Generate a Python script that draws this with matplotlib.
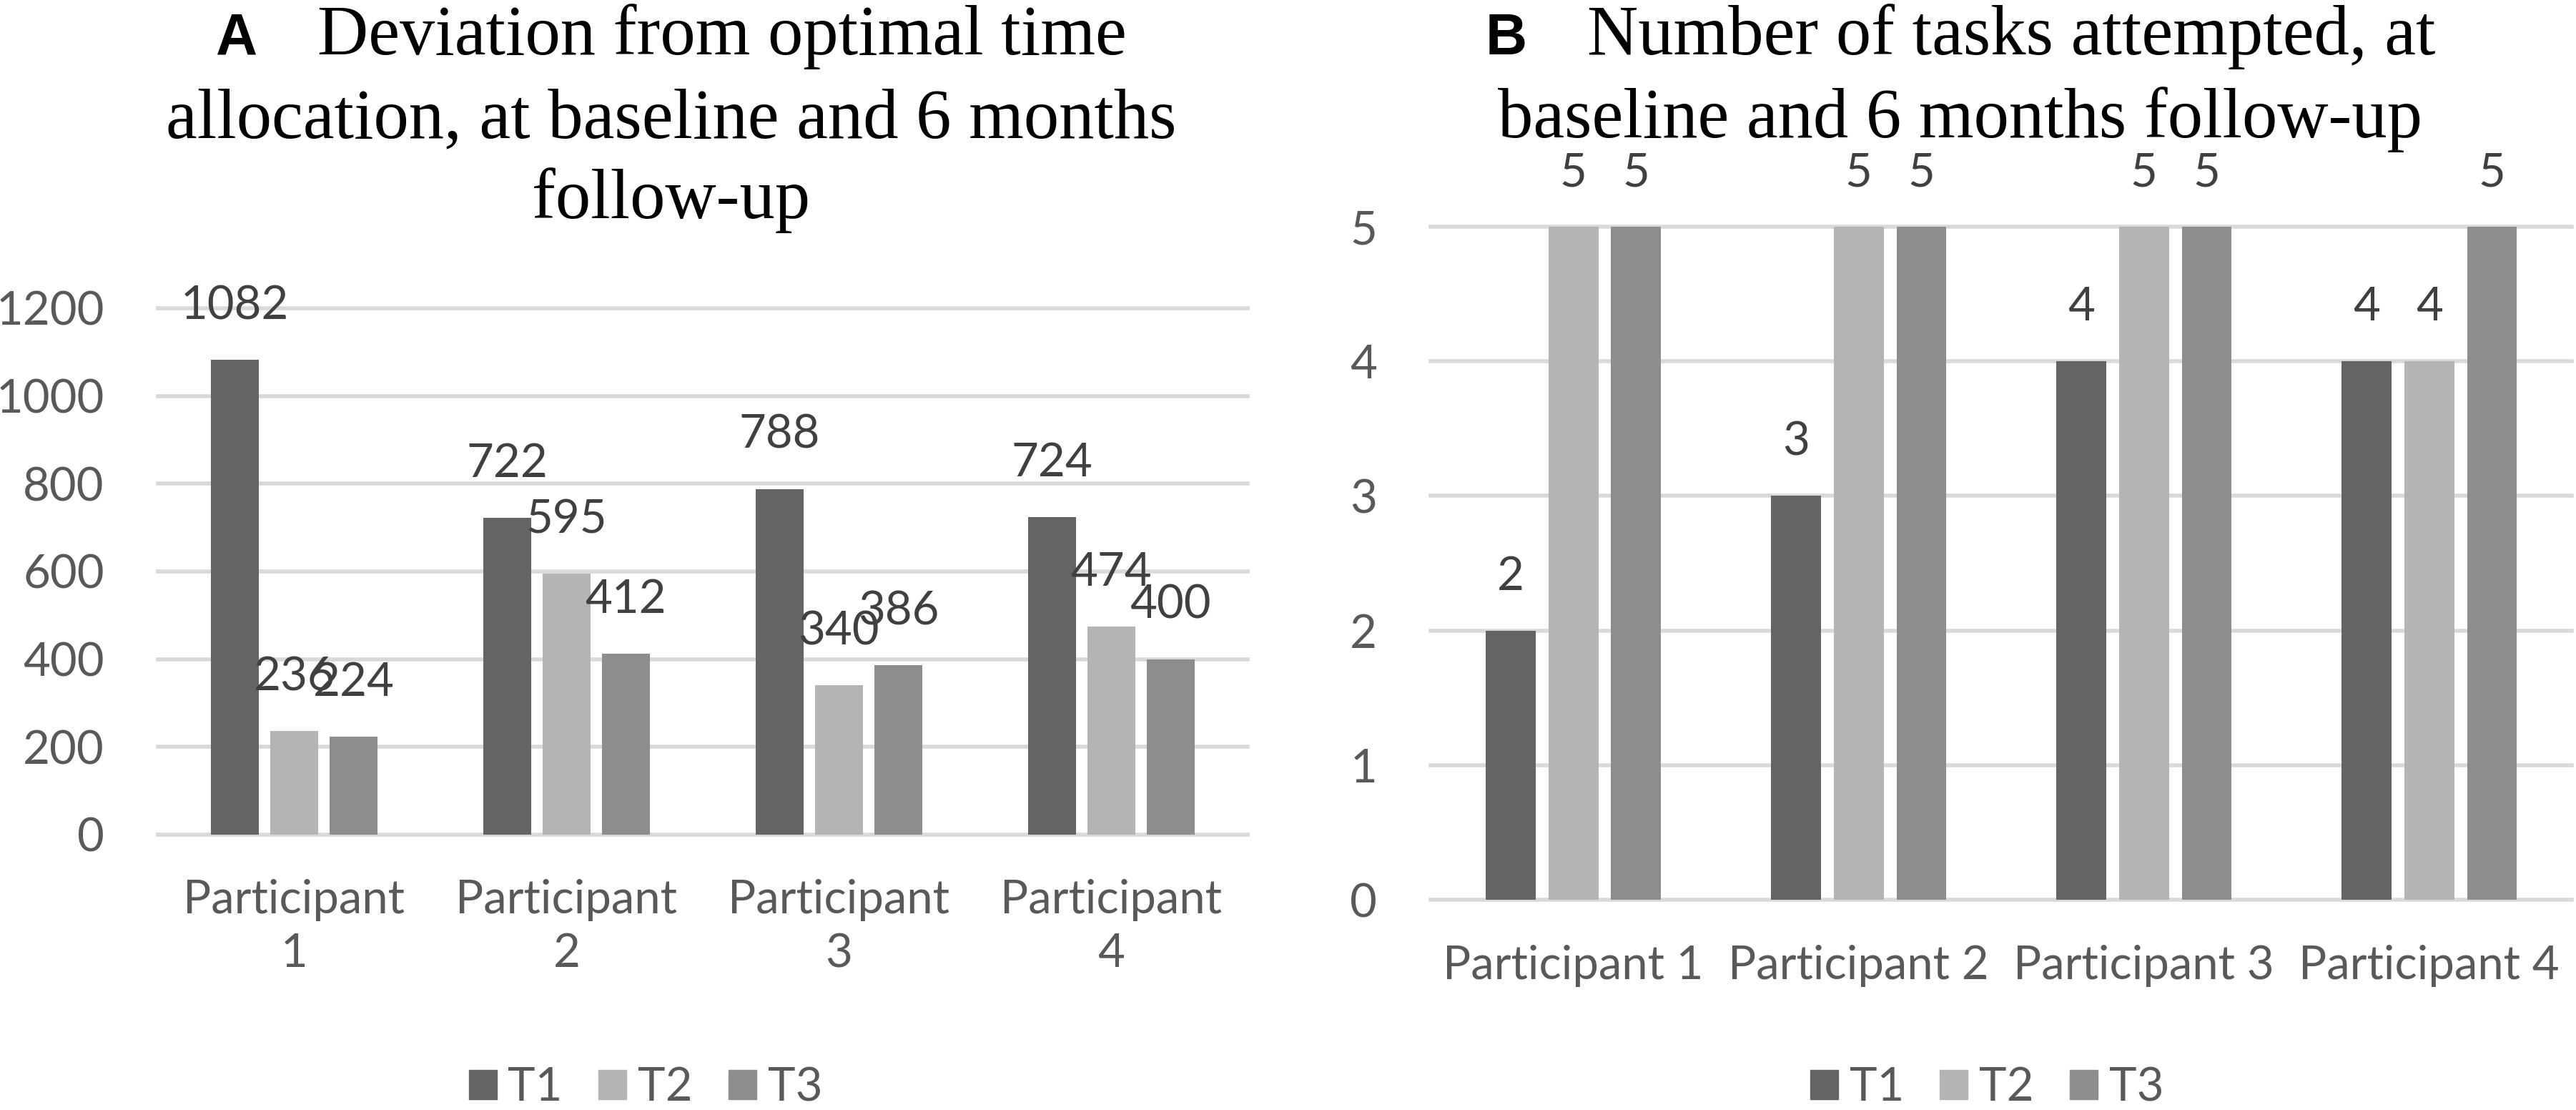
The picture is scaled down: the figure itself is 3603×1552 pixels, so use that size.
import numpy as np
import matplotlib
matplotlib.use('Agg')
import matplotlib.pyplot as plt
from matplotlib.patches import Patch

participants_a = ['Participant\n1', 'Participant\n2', 'Participant\n3', 'Participant\n4']
participants_b = ['Participant 1', 'Participant 2', 'Participant 3', 'Participant 4']
series = ['T1', 'T2', 'T3']
deviation_t1 = [1082, 722, 788, 724]
deviation_t2 = [236, 595, 340, 474]
deviation_t3 = [224, 412, 386, 400]
tasks_t1 = [2, 3, 4, 4]
tasks_t2 = [5, 5, 5, 4]
tasks_t3 = [5, 5, 5, 5]
yticks_a = [0, 200, 400, 600, 800, 1000, 1200]
yticks_b = [0, 1, 2, 3, 4, 5]

colors = ['#636466', '#b3b4b6', '#8c8d8f']
grid_col = '#d9d9d9'
tick_col = '#595959'
label_col = '#404040'
fs = 47
W, H = 3603, 1552

plt.rcParams['font.family'] = ['Lato', 'DejaVu Sans']
fig = plt.figure(figsize=(W / 100, H / 100), dpi=100)


def panel(rect, cats, data, yticks, step, width, lsp):
    ax = fig.add_axes(rect)
    x = np.arange(len(cats))
    for k, vals in enumerate(data):
        xs = x + (k - 1) * step
        ax.bar(xs, vals, width, color=colors[k], zorder=2, label=series[k])
        for xi, v in zip(xs, vals):
            ax.annotate(str(v), (xi, v), xytext=(0, 57), textcoords='offset pixels',
                        ha='center', va='baseline', fontsize=fs, color=label_col,
                        zorder=3, annotation_clip=False)
    for t in yticks:
        ax.axhline(t, color=grid_col, lw=4, zorder=1, clip_on=False)
    ax.set_xlim(-0.5, len(cats) - 0.5)
    ax.set_ylim(yticks[0], yticks[-1])
    ax.set_yticks(yticks)
    ax.set_xticks(x)
    ax.set_xticklabels(cats, linespacing=lsp)
    ax.tick_params(length=0, labelsize=fs, labelcolor=tick_col)
    ax.tick_params(axis='y', pad=54)
    ax.tick_params(axis='x', pad=45)
    for s in ax.spines.values():
        s.set_visible(False)
    return ax


ax_a = panel([0.0613, 0.2481, 0.423, 0.4742], participants_a,
             [deviation_t1, deviation_t2, deviation_t3], yticks_a, 0.218, 0.176, 1.33)
ax_b = panel([0.5554, 0.1894, 0.443, 0.6063], participants_b,
             [tasks_t1, tasks_t2, tasks_t3], yticks_b, 0.22, 0.175, 1.2)

handles = [Patch(color=c) for c in colors]
for cx in (0.2506, 0.7713):
    fig.legend(handles, series, loc='center', bbox_to_anchor=(cx, 0.02), ncol=3,
               frameon=False, fontsize=fs, handlelength=0.6, handleheight=0.6,
               handletextpad=0.24, columnspacing=0.77, labelcolor=tick_col,
               borderpad=0, borderaxespad=0)

serif = ['Liberation Serif', 'DejaVu Serif']
renderer = fig.canvas.get_renderer()


def title(cx, letter, lines):
    ys = [1 - 76 / H, 1 - 192 / H, 1 - 305 / H]
    t1 = fig.text(0, ys[0], lines[0], fontsize=71, family=serif, va='baseline', ha='left')
    lt = fig.text(0, ys[0], letter, fontsize=58, family=['Liberation Sans', 'DejaVu Sans'],
                  weight='bold', va='baseline', ha='left')
    w1 = t1.get_window_extent(renderer).width
    wl = lt.get_window_extent(renderer).width
    gap = 84
    x0 = cx * W - (wl + gap + w1) / 2
    lt.set_x(x0 / W)
    t1.set_x((x0 + wl + gap) / W)
    for line, y in zip(lines[1:], ys[1:]):
        fig.text(cx, y, line, fontsize=71, family=serif, va='baseline', ha='center')


title(0.2606, 'A', ['Deviation from optimal time', 'allocation, at baseline and 6 months', 'follow-up'])
title(0.761, 'B', ['Number of tasks attempted, at', 'baseline and 6 months follow-up'])

fig.savefig('out.png', dpi=100)
